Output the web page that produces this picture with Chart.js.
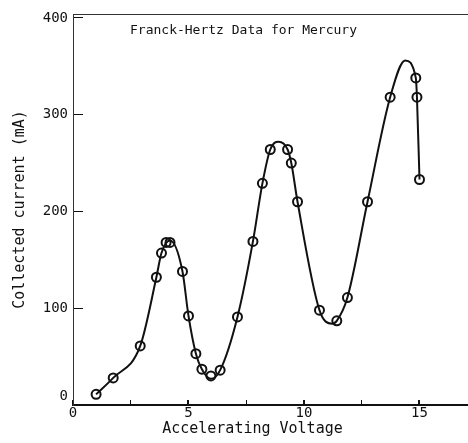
<!DOCTYPE html>
<html>
<head>
<meta charset="utf-8">
<script src="https://cdn.jsdelivr.net/npm/chart.js@4"></script>
<style>
  html, body { margin: 0; padding: 0; background: #fff; }
  #wrap { width: 468px; height: 443px; }
</style>
</head>
<body>
<div id="wrap"><canvas id="fh-chart" width="468" height="443"></canvas></div>
<script>
// Measured points (accelerating voltage in V, collected current in mA)
const pointVolts = [1.0, 1.74, 2.91, 3.61, 3.83, 4.03, 4.2, 4.74, 5.0, 5.32, 5.58, 5.97, 6.37,
  7.12, 7.79, 8.2, 8.54, 9.29, 9.45, 9.72, 10.67, 11.42, 11.88, 12.75, 13.73, 14.84, 14.89, 15.0];
const pointCurrents = [11, 28, 61, 132, 157, 168, 168, 138, 92, 53, 37, 30, 36,
  91, 169, 229, 264, 264, 250, 210, 98, 87, 111, 210, 318, 338, 318, 233];

// Smooth curve drawn through the data
const curveVolts = [1.0, 1.74, 2.91, 3.61, 3.83, 4.2, 4.74, 5.0, 5.32, 5.58, 5.97, 6.37, 7.12,
  7.79, 8.2, 8.54, 8.9, 9.29, 9.45, 9.72, 10.67, 11.21, 11.42, 11.88, 12.75, 13.73, 14.38, 14.84, 14.89, 15.0];
const curveCurrents = [11, 28, 61, 132, 157, 170, 138, 92, 53, 37, 27, 36, 91,
  169, 229, 264, 272, 264, 250, 210, 98, 84, 87, 111, 210, 318, 356, 338, 318, 233];

// Tick positions and which ones get a label
const xTickValues = [0, 2.5, 5, 7.5, 10, 12.5, 15];
const xTickLabels = ['0', '', '5', '', '10', '', '15'];
const yTickValues = [0, 100, 200, 300, 400];
const yTickLabels = [['0', ''], '100', '200', '300', '400'];

const chartTitle = 'Franck-Hertz Data for Mercury';
const xTitle = 'Accelerating Voltage    ';
const yTitle = 'Collected current (mA)';

const ink = '#111';
const mono = 'DejaVu Sans Mono';

function toXY(xs, ys) {
  return xs.map((x, i) => ({ x: x, y: ys[i] }));
}

// fixed box sizes so the plot area lands where it is in the original
function fixBox(size) {
  return axis => {
    if (axis.isHorizontal()) axis.height = size; else axis.width = size;
    axis.paddingTop = 0;
    axis.paddingBottom = 0;
    axis.paddingLeft = 0;
    axis.paddingRight = 0;
  };
}

// Title sits inside the plot area, under the top frame line
const innerTitle = {
  id: 'innerTitle',
  afterDraw(chart) {
    const { ctx, chartArea } = chart;
    ctx.save();
    ctx.font = '13px "' + mono + '"';
    ctx.fillStyle = ink;
    ctx.textAlign = 'left';
    ctx.textBaseline = 'middle';
    ctx.fillText(chartTitle, chartArea.left + 57, chartArea.top + 17);
    ctx.restore();
  }
};

new Chart('fh-chart', {
  type: 'scatter',
  data: {
    datasets: [
      {
        label: 'curve',
        data: toXY(curveVolts, curveCurrents),
        showLine: true,
        borderColor: ink,
        borderWidth: 2,
        pointRadius: 0,
        cubicInterpolationMode: 'monotone',
        fill: false,
        clip: false
      },
      {
        label: 'data',
        data: toXY(pointVolts, pointCurrents),
        showLine: false,
        pointStyle: 'circle',
        pointRadius: 4.5,
        pointBorderWidth: 2,
        pointBorderColor: ink,
        pointBackgroundColor: 'rgba(0,0,0,0)',
        clip: false
      }
    ]
  },
  options: {
    responsive: false,
    animation: false,
    devicePixelRatio: 1,
    layout: { padding: 0, autoPadding: false },
    plugins: {
      legend: { display: false },
      tooltip: { enabled: false }
    },
    scales: {
      x: {
        type: 'linear',
        position: 'bottom',
        min: 0,
        max: 17.1,
        afterBuildTicks: axis => { axis.ticks = xTickValues.map(v => ({ value: v })); },
        afterFit: fixBox(38),
        ticks: {
          autoSkip: false,
          maxRotation: 0,
          padding: 5,
          color: ink,
          font: { family: mono, size: 14 },
          callback: (v, i) => xTickLabels[i]
        },
        grid: {
          drawOnChartArea: false,
          drawTicks: true,
          tickLength: -5,
          tickColor: ink,
          lineWidth: c => (c.tick && c.tick.value % 5 === 0 ? 2 : 1)
        },
        border: { display: true, color: ink, width: 2 },
        title: {
          display: true,
          text: xTitle,
          color: ink,
          font: { family: mono, size: 15 },
          padding: { top: 0, bottom: 5 }
        }
      },
      xTop: {
        type: 'linear',
        position: 'top',
        min: 0,
        max: 17.1,
        afterFit: fixBox(14),
        ticks: { display: false },
        grid: { drawOnChartArea: false, drawTicks: false },
        border: { display: true, color: '#333', width: 1 }
      },
      y: {
        type: 'linear',
        position: 'left',
        min: 0,
        max: 404,
        afterBuildTicks: axis => { axis.ticks = yTickValues.map(v => ({ value: v })); },
        afterFit: fixBox(73),
        ticks: {
          autoSkip: false,
          padding: 15,
          color: ink,
          font: { family: mono, size: 14 },
          callback: (v, i) => yTickLabels[i]
        },
        grid: {
          drawOnChartArea: false,
          drawTicks: true,
          tickLength: -10,
          tickColor: ink,
          lineWidth: 1
        },
        border: { display: true, color: '#333', width: 1 },
        title: {
          display: true,
          text: yTitle,
          color: ink,
          font: { family: mono, size: 15 },
          padding: { top: 11, bottom: 0 }
        }
      }
    }
  },
  plugins: [innerTitle]
});
</script>
</body>
</html>
